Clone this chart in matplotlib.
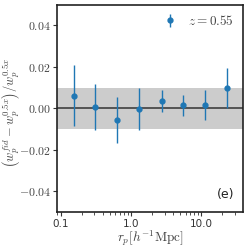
import matplotlib
matplotlib.use("Agg")
import matplotlib.pyplot as plt
from matplotlib.ticker import FuncFormatter, LogLocator, NullFormatter, FixedLocator

plt.rcParams['mathtext.fontset'] = 'cm'

rp = [0.155, 0.312, 0.64, 1.32, 2.72, 5.52, 11.3, 23.0]
frac = [0.0061, 0.0005, -0.0056, -0.0003, 0.0036, 0.0014, 0.0016, 0.0099]
err = [0.0148, 0.0110, 0.0110, 0.0100, 0.0052, 0.0050, 0.0073, 0.0098]
band = 0.01
yticks = [-0.04, -0.02, 0.0, 0.02, 0.04]
xticks = [0.1, 1.0, 10.0]
xticklabels = ["0.1", "1.0", "10.0"]

fig = plt.figure(figsize=(2.49, 2.49), dpi=100)
ax = fig.add_axes([0.2305, 0.149, 0.7465, 0.832])

ax.axhspan(-band, band, color='#cccccc', lw=0, zorder=0)
ax.axhline(0, color='#333333', lw=1.1, zorder=1)
ax.errorbar(rp, frac, yerr=err, fmt='o', color='#1f77b4', ms=3.5, elinewidth=1.0,
            capsize=0, zorder=3, label=r'$z=0.55$')

ax.set_xscale('log')
ax.set_xlim(0.09, 39.5)
ax.set_ylim(-0.05, 0.05)

ax.xaxis.set_major_locator(FixedLocator(xticks))
ax.set_xticklabels(xticklabels, fontsize=7.5, color='#333333')
ax.xaxis.set_minor_locator(LogLocator(base=10, subs=range(2, 10)))
ax.xaxis.set_minor_formatter(NullFormatter())

ax.set_yticks(yticks)
ax.yaxis.set_major_formatter(FuncFormatter(lambda v, p: r'$%.2f$' % v if abs(v) > 1e-9 else r'$0.00$'))
for lab in ax.get_yticklabels():
    lab.set_fontsize(8.5)
    lab.set_color('#444444')

ax.tick_params(axis='both', which='major', length=3, width=0.8, color='#333333', direction='out', pad=2)
ax.tick_params(axis='x', which='minor', length=1.8, width=0.6, color='#333333')
for s in ax.spines.values():
    s.set_color('#222222')
    s.set_linewidth(1.2)

ax.set_xlabel(r'$r_p[h^{-1}{\rm Mpc}]$', fontsize=9.5, color='#444444')
ax.xaxis.set_label_coords(0.5, -0.082)
ax.set_ylabel(r'$\left(w_p^{fid}-w_p^{0.5x}\right)/w_p^{0.5x}$', fontsize=9, color='#444444')
ax.yaxis.set_label_coords(-0.19, 0.48)

ax.legend(loc='upper right', frameon=False, fontsize=9.5, handlelength=1.0,
          handletextpad=0.9, borderaxespad=0.3, labelcolor='#444444')
ax.text(0.95, 0.055, '(e)', transform=ax.transAxes, ha='right', va='bottom', fontsize=9, color='#222222')

fig.savefig('out.png', dpi=100)
